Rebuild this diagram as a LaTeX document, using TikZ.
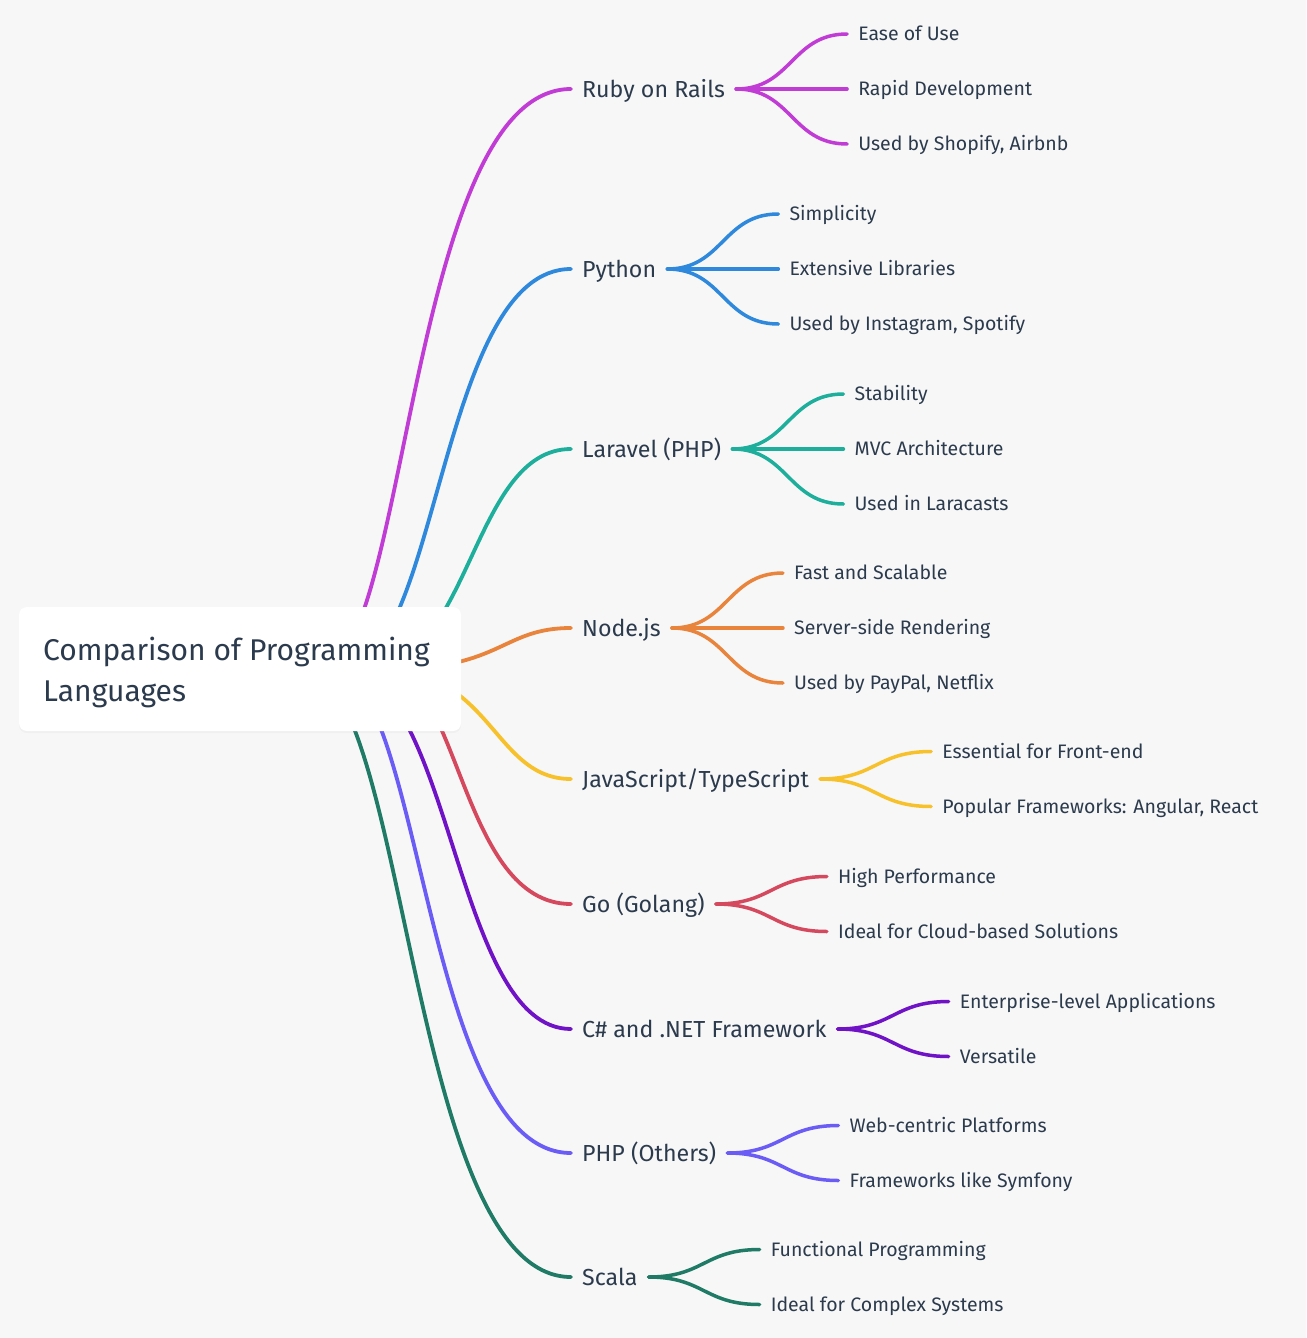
\documentclass[tikz,border=0pt]{standalone}
\usepackage{fontspec}
\setmainfont{Fira Sans}
\usetikzlibrary{calc,shadows}
\definecolor{bg}{HTML}{F7F7F7}
\definecolor{txt}{HTML}{2B3A4C}
\definecolor{cRuby}{HTML}{C03CD4}
\definecolor{cPy}{HTML}{2E88DC}
\definecolor{cLar}{HTML}{1DAE9C}
\definecolor{cNode}{HTML}{E8843C}
\definecolor{cJS}{HTML}{F7C12C}
\definecolor{cGo}{HTML}{D5495E}
\definecolor{cCs}{HTML}{7012C6}
\definecolor{cPhp}{HTML}{6B5CF6}
\definecolor{cSc}{HTML}{1F7A66}
\begin{document}
\begin{tikzpicture}[x=1pt,y=-1pt,
  link/.style={line width=3.8pt, line cap=round},
  sublink/.style={line width=3.5pt, line cap=round},
  hbez/.style={to path={let \p1=(\tikztostart), \p2=(\tikztotarget) in
     .. controls ({0.5*(\x1+\x2)},\y1) and ({0.5*(\x1+\x2)},\y2) .. (\tikztotarget)}},
  rootbox/.style={fill=white, rounded corners=8pt, minimum width=442pt, minimum height=124pt,
     inner sep=0pt, drop shadow={opacity=0.06, shadow xshift=0pt, shadow yshift=-2pt}},
  roottxt/.style={text=txt, inner sep=0pt, align=left, font=\fontsize{30}{41}\selectfont},
  lone/.style={anchor=west, text=txt, inner ysep=0pt, inner xsep=11pt, text height=16pt, text depth=0pt,
     font=\fontsize{23.2}{28}\selectfont},
  ltwo/.style={anchor=west, text=txt, inner ysep=0pt, inner xsep=11pt, text height=13.4pt, text depth=0pt,
     font=\fontsize{19.5}{23}\selectfont},
]
\useasboundingbox (0,0) rectangle (1306,1338);
\fill[bg] (0,0) rectangle (1306,1338);

% level-1 nodes
\node[lone] (ruby) at (571,89) {Ruby on Rails};
\node[lone] (py) at (571,269) {Python};
\node[lone] (lar) at (571,449) {Laravel (PHP)};
\node[lone] (nodejs) at (571,628) {Node.js};
\node[lone] (js) at (571,779) {JavaScript/TypeScript};
\node[lone] (go) at (571,904) {Go (Golang)};
\node[lone] (cs) at (571,1029) {C\# and .NET Framework};
\node[lone] (php) at (571,1153) {PHP (Others)};
\node[lone] (sc) at (571,1277) {Scala};

% sources of the root connectors (behind the root box)
\coordinate (s1) at (320,669);
\coordinate (s2) at (342,669);
\coordinate (s3) at (366,669);
\coordinate (s4) at (390,669);
\coordinate (s5) at (379,669);
\coordinate (s6) at (384,669);
\coordinate (s7) at (340,669);
\coordinate (s8) at (331,669);
\coordinate (s9) at (303,669);

\draw[link,cRuby] (s1) .. controls (408,669) and (408,89) .. (ruby.west);
\draw[link,cPy]   (s2) .. controls (439,669) and (439,269) .. (py.west);
\draw[link,cLar]  (s3) .. controls (471,669) and (471,449) .. (lar.west);
\draw[link,cNode] (s4) .. controls (502,669) and (502,628) .. (nodejs.west);
\draw[link,cJS]   (s5) .. controls (493,669) and (493,779) .. (js.west);
\draw[link,cGo]   (s6) .. controls (460,669) and (460,904) .. (go.west);
\draw[link,cCs]   (s7) .. controls (453,669) and (453,1029) .. (cs.west);
\draw[link,cPhp]  (s8) .. controls (423,669) and (423,1153) .. (php.west);
\draw[link,cSc]   (s9) .. controls (408,669) and (408,1277) .. (sc.west);

% root
\node[rootbox] (root) at (240,669) {};
\node[roottxt, anchor=west] (rootlabel) at (43,672) {Comparison of Programming\\Languages};

% children
\node[ltwo] (ruby1) at ($(ruby.east)+(111,-55)$) {Ease of Use};
\node[ltwo] (ruby2) at ($(ruby.east)+(111,0)$) {Rapid Development};
\node[ltwo] (ruby3) at ($(ruby.east)+(111,55)$) {Used by Shopify, Airbnb};
\foreach \c in {ruby1,ruby2,ruby3} \draw[sublink,cRuby] (ruby.east) to[hbez] (\c.west);

\node[ltwo] (py1) at ($(py.east)+(111,-55)$) {Simplicity};
\node[ltwo] (py2) at ($(py.east)+(111,0)$) {Extensive Libraries};
\node[ltwo] (py3) at ($(py.east)+(111,55)$) {Used by Instagram, Spotify};
\foreach \c in {py1,py2,py3} \draw[sublink,cPy] (py.east) to[hbez] (\c.west);

\node[ltwo] (lar1) at ($(lar.east)+(111,-55)$) {Stability};
\node[ltwo] (lar2) at ($(lar.east)+(111,0)$) {MVC Architecture};
\node[ltwo] (lar3) at ($(lar.east)+(111,55)$) {Used in Laracasts};
\foreach \c in {lar1,lar2,lar3} \draw[sublink,cLar] (lar.east) to[hbez] (\c.west);

\node[ltwo] (nodejs1) at ($(nodejs.east)+(111,-55)$) {Fast and Scalable};
\node[ltwo] (nodejs2) at ($(nodejs.east)+(111,0)$) {Server-side Rendering};
\node[ltwo] (nodejs3) at ($(nodejs.east)+(111,55)$) {Used by PayPal, Netflix};
\foreach \c in {nodejs1,nodejs2,nodejs3} \draw[sublink,cNode] (nodejs.east) to[hbez] (\c.west);

\node[ltwo] (js1) at ($(js.east)+(111,-27.5)$) {Essential for Front-end};
\node[ltwo] (js2) at ($(js.east)+(111,27.5)$) {Popular Frameworks: Angular, React};
\foreach \c in {js1,js2} \draw[sublink,cJS] (js.east) to[hbez] (\c.west);

\node[ltwo] (go1) at ($(go.east)+(111,-27.5)$) {High Performance};
\node[ltwo] (go2) at ($(go.east)+(111,27.5)$) {Ideal for Cloud-based Solutions};
\foreach \c in {go1,go2} \draw[sublink,cGo] (go.east) to[hbez] (\c.west);

\node[ltwo] (cs1) at ($(cs.east)+(111,-27.5)$) {Enterprise-level Applications};
\node[ltwo] (cs2) at ($(cs.east)+(111,27.5)$) {Versatile};
\foreach \c in {cs1,cs2} \draw[sublink,cCs] (cs.east) to[hbez] (\c.west);

\node[ltwo] (php1) at ($(php.east)+(111,-27.5)$) {Web-centric Platforms};
\node[ltwo] (php2) at ($(php.east)+(111,27.5)$) {Frameworks like Symfony};
\foreach \c in {php1,php2} \draw[sublink,cPhp] (php.east) to[hbez] (\c.west);

\node[ltwo] (sc1) at ($(sc.east)+(111,-27.5)$) {Functional Programming};
\node[ltwo] (sc2) at ($(sc.east)+(111,27.5)$) {Ideal for Complex Systems};
\foreach \c in {sc1,sc2} \draw[sublink,cSc] (sc.east) to[hbez] (\c.west);
\end{tikzpicture}
\end{document}
